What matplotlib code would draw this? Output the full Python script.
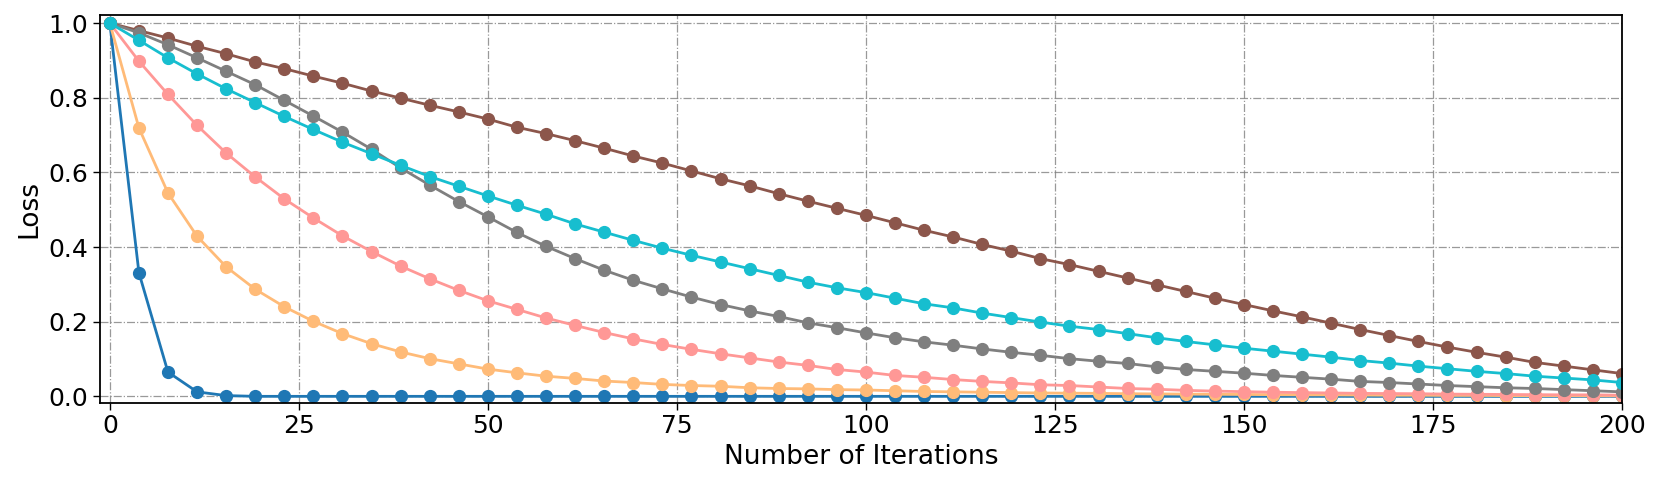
import numpy as np
import matplotlib
matplotlib.use("Agg")
import matplotlib.pyplot as plt

iterations = [0.00, 3.85, 7.69, 11.54, 15.38, 19.23, 23.08, 26.92, 30.77, 34.62,
              38.46, 42.31, 46.15, 50.00, 53.85, 57.69, 61.54, 65.38, 69.23, 73.08,
              76.92, 80.77, 84.62, 88.46, 92.31, 96.15, 100.00, 103.85, 107.69, 111.54,
              115.38, 119.23, 123.08, 126.92, 130.77, 134.62, 138.46, 142.31, 146.15, 150.00,
              153.85, 157.69, 161.54, 165.38, 169.23, 173.08, 176.92, 180.77, 184.62, 188.46,
              192.31, 196.15, 200.00]

loss_blue = [1.0, 0.331, 0.065, 0.012, 0.002] + [0.0] * 48

loss_orange = [1.0, 0.719, 0.545, 0.429, 0.347, 0.287, 0.240, 0.201, 0.168, 0.141,
               0.119, 0.101, 0.087, 0.073, 0.063, 0.054, 0.048, 0.041, 0.037, 0.032,
               0.029, 0.027, 0.023, 0.021, 0.020, 0.018, 0.017, 0.015, 0.013, 0.012,
               0.011, 0.010, 0.009, 0.0085, 0.008, 0.007, 0.0065, 0.006, 0.0055, 0.005,
               0.0045, 0.004, 0.004, 0.0035, 0.003, 0.003, 0.0025, 0.0025, 0.002, 0.002,
               0.002, 0.0015, 0.0015]

loss_pink = [1.0, 0.898, 0.809, 0.726, 0.652, 0.588, 0.529, 0.478, 0.430, 0.388,
             0.349, 0.315, 0.284, 0.256, 0.233, 0.210, 0.190, 0.171, 0.154, 0.139,
             0.126, 0.114, 0.103, 0.092, 0.083, 0.072, 0.065, 0.056, 0.051, 0.045,
             0.040, 0.036, 0.031, 0.029, 0.025, 0.021, 0.019, 0.016, 0.014, 0.0125,
             0.011, 0.010, 0.009, 0.008, 0.0075, 0.007, 0.006, 0.0055, 0.005, 0.0045,
             0.004, 0.004, 0.003]

loss_brown = [1.0, 0.980, 0.960, 0.938, 0.918, 0.896, 0.878, 0.858, 0.839, 0.818,
              0.799, 0.780, 0.762, 0.743, 0.721, 0.704, 0.685, 0.665, 0.644, 0.625,
              0.604, 0.583, 0.564, 0.543, 0.523, 0.504, 0.485, 0.465, 0.445, 0.427,
              0.407, 0.389, 0.369, 0.353, 0.335, 0.317, 0.299, 0.281, 0.263, 0.246,
              0.229, 0.213, 0.196, 0.179, 0.163, 0.147, 0.132, 0.118, 0.105, 0.091,
              0.081, 0.071, 0.061]

loss_gray = [1.0, 0.974, 0.942, 0.907, 0.871, 0.835, 0.793, 0.751, 0.708, 0.662,
             0.612, 0.566, 0.522, 0.481, 0.439, 0.402, 0.369, 0.338, 0.311, 0.288,
             0.266, 0.246, 0.229, 0.214, 0.197, 0.184, 0.170, 0.157, 0.146, 0.137,
             0.127, 0.118, 0.110, 0.101, 0.094, 0.088, 0.079, 0.072, 0.067, 0.062,
             0.056, 0.051, 0.046, 0.040, 0.037, 0.033, 0.029, 0.026, 0.023, 0.021,
             0.018, 0.015, 0.012]

loss_cyan = [1.0, 0.954, 0.907, 0.864, 0.824, 0.787, 0.750, 0.715, 0.681, 0.650,
             0.619, 0.589, 0.563, 0.537, 0.512, 0.488, 0.462, 0.440, 0.418, 0.397,
             0.378, 0.360, 0.342, 0.324, 0.306, 0.291, 0.278, 0.263, 0.248, 0.237,
             0.223, 0.211, 0.199, 0.188, 0.179, 0.168, 0.157, 0.147, 0.138, 0.129,
             0.121, 0.113, 0.105, 0.096, 0.089, 0.081, 0.074, 0.067, 0.061, 0.054,
             0.049, 0.044, 0.037]

series = [
    (loss_blue, "#1f77b4"),
    (loss_orange, "#ffbb78"),
    (loss_pink, "#ff9896"),
    (loss_brown, "#8c564b"),
    (loss_gray, "#7f7f7f"),
    (loss_cyan, "#17becf"),
]

x_ticks = [0, 25, 50, 75, 100, 125, 150, 175, 200]
y_ticks = [0.0, 0.2, 0.4, 0.6, 0.8, 1.0]

fig = plt.figure(figsize=(16.61, 4.90), dpi=100)
ax = fig.add_axes([0.0602, 0.1782, 0.9163, 0.7906])

for vals, col in series:
    ax.plot(iterations, vals, color=col, marker="o", markersize=8.5, linewidth=2)

ax.set_xlim(-1.3, 200)
ax.set_ylim(-0.017, 1.021)
ax.set_xticks(x_ticks)
ax.set_yticks(y_ticks)
ax.set_yticklabels([f"{v:.1f}" for v in y_ticks])
ax.tick_params(labelsize=18, length=5, width=1)
ax.grid(True, linestyle="-.", color="gray", linewidth=0.9, alpha=0.8)
ax.set_axisbelow(True)
ax.set_xlabel("Number of Iterations", fontsize=19)
ax.set_ylabel("Loss", fontsize=19)
for s in ax.spines.values():
    s.set_linewidth(1.3)

fig.savefig("out.png", dpi=100)
